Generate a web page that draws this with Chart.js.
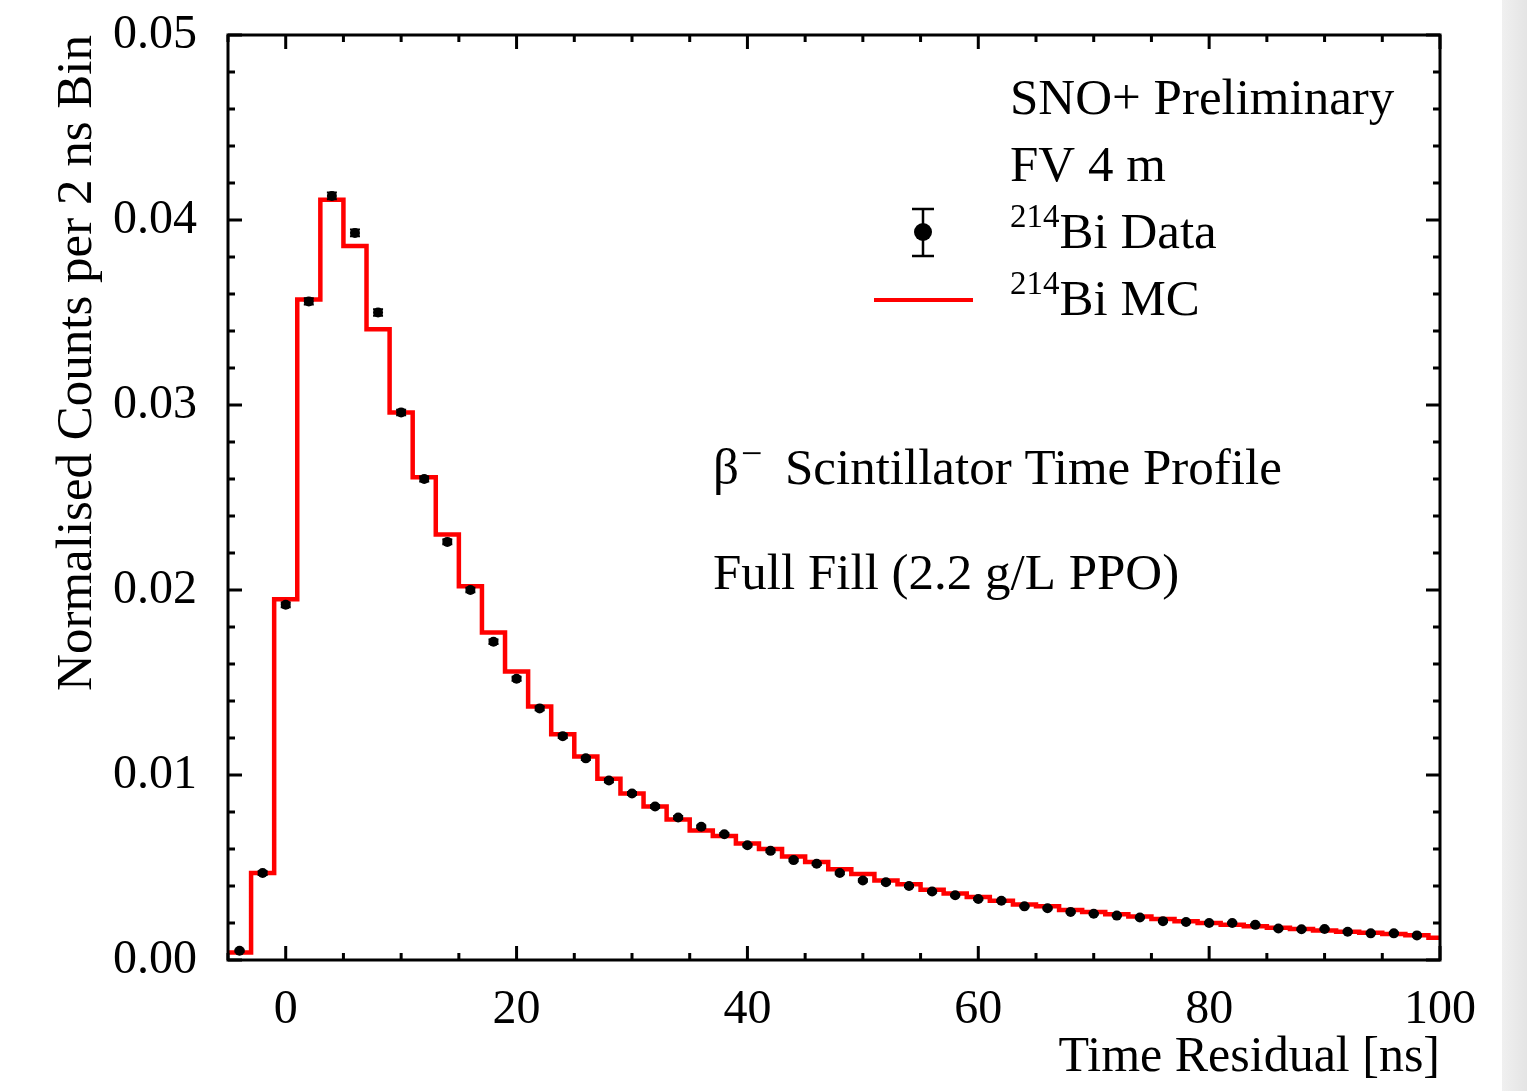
<!DOCTYPE html>
<html><head><meta charset="utf-8">
<script src="https://cdn.jsdelivr.net/npm/chart.js@4.4.1/dist/chart.umd.min.js"></script>
<style>
html,body{margin:0;padding:0;background:#fff;overflow:hidden;}
#wrap{position:absolute;left:0;top:0;width:1527px;height:1091px;}
#band{position:absolute;left:1502px;top:0;width:25px;height:1091px;background:linear-gradient(to right,#f0f0f0,#e4e4e4);}
</style></head><body>
<div id="wrap"><canvas id="c" width="1527" height="1091"></canvas></div>
<div id="band"></div>
<script>
// ---- data ----
const binCenters = [-4,-2,0,2,4,6,8,10,12,14,16,18,20,22,24,26,28,30,32,34,36,38,40,42,44,46,48,50,52,54,56,58,60,62,64,66,68,70,72,74,76,78,80,82,84,86,88,90,92,94,96,98];
const dataValues = [0.0005,0.0047,0.0192,0.0356,0.0413,0.0393,0.0350,0.0296,0.0260,0.0226,0.0200,0.0172,0.0152,0.0136,0.0121,0.0109,0.0097,0.0090,0.0083,0.0077,0.0072,0.0068,0.0062,0.0059,0.0054,0.0052,0.0047,0.0043,0.0042,0.0040,0.0037,0.0035,0.0033,0.0032,0.0029,0.0028,0.0026,0.0025,0.0024,0.0023,0.0021,0.00205,0.0020,0.0020,0.0019,0.0017,0.00166,0.00168,0.00153,0.00144,0.00144,0.00133];
const dataErrors = [0.00005,0.0001,0.00013,0.00017,0.00018,0.00018,0.00017,0.00015,0.00014,0.00013,0.00012,0.00012,0.00011,0.0001,0.0001,0.00009,0.00009,0.00008,0.00008,0.00008,0.00007,0.00007,0.00007,0.00007,0.00006,0.00006,0.00006,0.00006,0.00006,0.00005,0.00005,0.00005,0.00005,0.00005,0.00005,0.00005,0.00004,0.00004,0.00004,0.00004,0.00004,0.00004,0.00004,0.00004,0.00004,0.00004,0.00004,0.00004,0.00004,0.00004,0.00004,0.00004];
const mcBinCenters = [-4,-2,0,2,4,6,8,10,12,14,16,18,20,22,24,26,28,30,32,34,36,38,40,42,44,46,48,50,52,54,56,58,60,62,64,66,68,70,72,74,76,78,80,82,84,86,88,90,92,94,96,98,100];
const mcValues = [0.0004,0.0047,0.0195,0.0357,0.0411,0.0386,0.0341,0.0296,0.0261,0.0230,0.0202,0.0177,0.0156,0.0137,0.0122,0.0110,0.0098,0.0090,0.0083,0.0076,0.0070,0.0067,0.0063,0.0060,0.0056,0.0053,0.0049,0.00465,0.0043,0.0041,0.0038,0.0036,0.0034,0.0032,0.0030,0.0029,0.0027,0.0026,0.00247,0.00235,0.00222,0.0021,0.0020,0.0019,0.00183,0.00175,0.00167,0.0016,0.00153,0.00147,0.0014,0.00134,0.0012];
const binWidth = 2;
const xTickValues = [0,20,40,60,80,100];
const yTickValues = [0,0.01,0.02,0.03,0.04,0.05];
const yTickLabels = ['0.00','0.01','0.02','0.03','0.04','0.05'];

const FONT = '"Liberation Serif", "Times New Roman", serif';

const dataPoints = binCenters.map((x,i)=>({x:x, y:dataValues[i]}));
// step histogram: each bin's value starts at its lower edge
const mcPoints = mcBinCenters.map((x,i)=>({x:x-binWidth/2, y:mcValues[i]}));
mcPoints.push({x: mcBinCenters[mcBinCenters.length-1]+binWidth/2, y: mcValues[mcValues.length-1]});

const errorBarPlugin = {
  id:'errbars',
  beforeDatasetDraw(chart, args){
    if (args.index !== 0) return;
    const ctx = chart.ctx, xs = chart.scales.x, ys = chart.scales.y;
    ctx.save();
    ctx.strokeStyle = '#000'; ctx.lineWidth = 2;
    binCenters.forEach((x,i)=>{
      const px = xs.getPixelForValue(x);
      const y1 = ys.getPixelForValue(dataValues[i]-dataErrors[i]);
      const y2 = ys.getPixelForValue(dataValues[i]+dataErrors[i]);
      ctx.beginPath();
      ctx.moveTo(px,y1); ctx.lineTo(px,y2);
      ctx.moveTo(px-5,y1); ctx.lineTo(px+5,y1);
      ctx.moveTo(px-5,y2); ctx.lineTo(px+5,y2);
      ctx.stroke();
    });
    ctx.restore();
  }
};

const framePlugin = {
  id:'frame',
  afterDraw(chart){
    const ctx = chart.ctx, xs = chart.scales.x, ys = chart.scales.y;
    const a = chart.chartArea;
    ctx.save();
    ctx.strokeStyle = '#000';
    ctx.lineWidth = 3;
    ctx.strokeRect(a.left, a.top, a.right-a.left, a.bottom-a.top);
    for (let v = -5; v <= 100; v += 5) {
      const px = xs.getPixelForValue(v);
      const len = (xTickValues.indexOf(v) >= 0) ? 14 : 7;
      ctx.beginPath();
      ctx.moveTo(px, a.bottom); ctx.lineTo(px, a.bottom-len);
      ctx.moveTo(px, a.top); ctx.lineTo(px, a.top+len);
      ctx.stroke();
    }
    for (let k = 0; k <= 25; k++) {
      const v = k*0.002;
      const py = ys.getPixelForValue(v);
      const len = (k % 5 === 0) ? 14 : 7;
      ctx.beginPath();
      ctx.moveTo(a.left, py); ctx.lineTo(a.left+len, py);
      ctx.moveTo(a.right, py); ctx.lineTo(a.right-len, py);
      ctx.stroke();
    }
    ctx.fillStyle = '#000';
    ctx.textBaseline = 'alphabetic';
    ctx.textAlign = 'left';
    const big = '51px ' + FONT, sup = '33px ' + FONT;
    ctx.font = big;
    ctx.fillText('SNO+ Preliminary', 1010, 114);
    ctx.fillText('FV 4 m', 1010, 181);
    ctx.font = sup; ctx.fillText('214', 1010, 227);
    let w = ctx.measureText('214').width;
    ctx.font = big; ctx.fillText('Bi Data', 1010+w, 248);
    ctx.font = sup; ctx.fillText('214', 1010, 294);
    ctx.font = big; ctx.fillText('Bi MC', 1010+w, 315);
    ctx.lineWidth = 2.5;
    ctx.beginPath();
    ctx.moveTo(923,209); ctx.lineTo(923,256);
    ctx.moveTo(912,209); ctx.lineTo(934,209);
    ctx.moveTo(912,256); ctx.lineTo(934,256);
    ctx.stroke();
    ctx.beginPath(); ctx.arc(923,232,9,0,Math.PI*2); ctx.fill();
    ctx.strokeStyle = '#ff0000'; ctx.lineWidth = 4;
    ctx.beginPath(); ctx.moveTo(874,300); ctx.lineTo(973,300); ctx.stroke();
    ctx.fillStyle = '#000';
    ctx.font = big; ctx.fillText('β', 713, 484);
    ctx.font = '38px ' + FONT; ctx.fillText('\u2212', 741, 466);
    ctx.font = big; ctx.fillText('Scintillator Time Profile', 785, 484);
    ctx.fillText('Full Fill (2.2 g/L PPO)', 713, 589);
    ctx.restore();
  }
};

new Chart(document.getElementById('c'), {
  type:'line',
  data:{
    datasets:[
      {label:'214Bi Data', data:dataPoints, showLine:false, pointRadius:5, pointHoverRadius:5,
       pointBackgroundColor:'#000', pointBorderWidth:0, borderColor:'#000', order:0},
      {label:'214Bi MC', data:mcPoints, stepped:'before', borderColor:'#ff0000', borderWidth:4.5,
       pointRadius:0, fill:false, order:1, clip:0}
    ]
  },
  options:{
    responsive:false, devicePixelRatio:1, animation:false,
    events:[],
    layout:{padding:{top:35, right:87, left:0, bottom:0}},
    plugins:{legend:{display:false}, tooltip:{enabled:false}},
    scales:{
      x:{type:'linear', min:-5, max:100,
         grid:{display:false, drawTicks:false}, border:{display:false},
         afterBuildTicks(s){ s.ticks = xTickValues.map(v=>({value:v})); },
         afterFit(s){ s.height = 131; s.paddingLeft = 0; s.paddingRight = 0; },
         ticks:{color:'#000', font:{family:FONT, size:48}, padding:22, maxRotation:0, autoSkip:false,
                callback:(v)=>String(v)},
         title:{display:true, text:'Time Residual [ns]', align:'end', color:'#000',
                font:{family:FONT, size:50}, padding:{top:0,bottom:3}}
      },
      y:{type:'linear', min:0, max:0.05,
         grid:{display:false, drawTicks:false}, border:{display:false},
         afterBuildTicks(s){ s.ticks = yTickValues.map(v=>({value:v})); },
         afterFit(s){ s.width = 228; s.paddingTop = 0; s.paddingBottom = 0; },
         ticks:{color:'#000', font:{family:FONT, size:48}, padding:31, autoSkip:false,
                callback:(v)=>yTickLabels[yTickValues.indexOf(v)] ?? v.toFixed(2)},
         title:{display:true, text:'Normalised Counts per 2 ns Bin', align:'end', color:'#000',
                font:{family:FONT, size:51}, padding:{top:47,bottom:0}}
      }
    }
  },
  plugins:[errorBarPlugin, framePlugin]
});
</script>
</body></html>
